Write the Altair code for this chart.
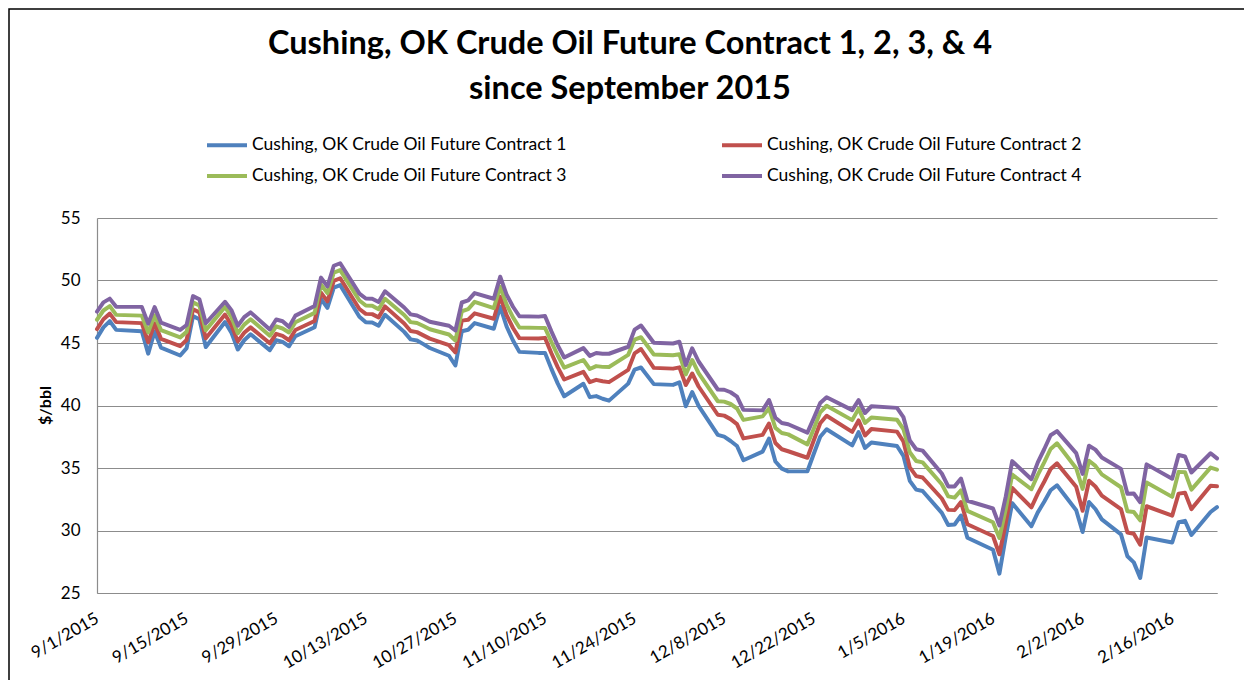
import altair as alt
import pandas as pd

# ---------------- data ----------------
dates = [
    # Sep 2015
    "2015-09-01", "2015-09-02", "2015-09-03", "2015-09-04", "2015-09-08", "2015-09-09", "2015-09-10",
    "2015-09-11", "2015-09-14", "2015-09-15", "2015-09-16", "2015-09-17", "2015-09-18", "2015-09-21",
    "2015-09-22", "2015-09-23", "2015-09-24", "2015-09-25", "2015-09-28", "2015-09-29", "2015-09-30",
    # Oct 2015
    "2015-10-01", "2015-10-02", "2015-10-05", "2015-10-06", "2015-10-07", "2015-10-08", "2015-10-09",
    "2015-10-12", "2015-10-13", "2015-10-14", "2015-10-15", "2015-10-16", "2015-10-19", "2015-10-20",
    "2015-10-21", "2015-10-22", "2015-10-23", "2015-10-26", "2015-10-27", "2015-10-28", "2015-10-29",
    "2015-10-30",
    # Nov 2015
    "2015-11-02", "2015-11-03", "2015-11-04", "2015-11-05", "2015-11-06", "2015-11-09", "2015-11-10",
    "2015-11-11", "2015-11-12", "2015-11-13", "2015-11-16", "2015-11-17", "2015-11-18", "2015-11-19",
    "2015-11-20", "2015-11-23", "2015-11-24", "2015-11-25", "2015-11-27", "2015-11-30",
    # Dec 2015
    "2015-12-01", "2015-12-02", "2015-12-03", "2015-12-04", "2015-12-07", "2015-12-08", "2015-12-09",
    "2015-12-10", "2015-12-11", "2015-12-14", "2015-12-15", "2015-12-16", "2015-12-17", "2015-12-18",
    "2015-12-21", "2015-12-22", "2015-12-23", "2015-12-24", "2015-12-28", "2015-12-29", "2015-12-30",
    "2015-12-31",
    # Jan 2016
    "2016-01-04", "2016-01-05", "2016-01-06", "2016-01-07", "2016-01-08", "2016-01-11", "2016-01-12",
    "2016-01-13", "2016-01-14", "2016-01-15", "2016-01-19", "2016-01-20", "2016-01-21", "2016-01-22",
    "2016-01-25", "2016-01-26", "2016-01-27", "2016-01-28", "2016-01-29",
    # Feb 2016
    "2016-02-01", "2016-02-02", "2016-02-03", "2016-02-04", "2016-02-05", "2016-02-08", "2016-02-09",
    "2016-02-10", "2016-02-11", "2016-02-12", "2016-02-16", "2016-02-17", "2016-02-18", "2016-02-19",
    "2016-02-22", "2016-02-23",
]

contract1 = [
    45.41, 46.25, 46.75, 46.05, 45.94, 44.15, 45.92, 44.63, 44.00, 44.59, 47.15, 46.90, 44.68, 46.68,
    45.83, 44.48, 45.22, 45.70, 44.43, 45.23, 45.09,
    44.74, 45.54, 46.26, 48.53, 47.81, 49.43, 49.63, 47.10, 46.66, 46.64, 46.38, 47.26, 45.89, 45.29,
    45.20, 44.91, 44.60, 43.98, 43.20, 45.94, 46.06, 46.59,
    46.14, 47.90, 46.32, 45.20, 44.29, 44.21, 44.21, 42.93, 41.75, 40.74, 41.74, 40.67, 40.75, 40.54,
    40.39, 41.75, 42.87, 43.04, 41.71, 41.65,
    41.85, 39.94, 41.08, 39.97, 37.65, 37.51, 37.16, 36.76, 35.62, 36.31, 37.35, 35.52, 34.95, 34.73,
    34.74, 36.14, 37.50, 38.10, 36.81, 37.87, 36.60, 37.04,
    36.76, 35.97, 33.97, 33.27, 33.16, 31.41, 30.44, 30.48, 31.20, 29.42, 28.46, 26.55, 29.53, 32.19,
    30.34, 31.45, 32.30, 33.22, 33.62,
    31.62, 29.88, 32.28, 31.72, 30.89, 29.69, 27.94, 27.45, 26.21, 29.44, 29.04, 30.66, 30.77, 29.64,
    31.48, 31.87,
]

contract2 = [
    46.11, 46.90, 47.35, 46.67, 46.59, 45.05, 46.57, 45.33, 44.75, 45.24, 47.70, 47.45, 45.38, 47.28,
    46.43, 45.13, 45.82, 46.25, 44.98, 45.73, 45.57,
    45.22, 46.04, 46.76, 49.03, 48.33, 49.97, 50.18, 47.72, 47.33, 47.31, 47.05, 47.93, 46.56, 45.96,
    45.87, 45.61, 45.35, 44.83, 44.25, 46.79, 46.86, 47.37,
    46.94, 48.70, 47.22, 46.20, 45.39, 45.36, 45.41, 44.18, 43.05, 42.08, 42.69, 41.87, 42.05, 41.94,
    41.87, 42.85, 44.17, 44.52, 43.01, 42.95,
    43.05, 41.64, 42.56, 41.52, 39.26, 39.19, 38.91, 38.51, 37.37, 37.65, 38.56, 37.00, 36.50, 36.34,
    35.82, 37.22, 38.58, 39.18, 37.89, 38.81, 37.60, 38.12,
    37.91, 37.12, 35.05, 34.35, 34.24, 32.56, 31.65, 31.63, 32.28, 30.50, 29.56, 28.10, 30.63, 33.40,
    31.85, 32.95, 33.90, 34.92, 35.37,
    33.50, 31.58, 33.98, 33.52, 32.79, 31.71, 29.84, 29.74, 28.86, 31.94, 31.19, 32.95, 33.02, 31.71,
    33.58, 33.54,
]

contract3 = [
    46.86, 47.60, 47.95, 47.25, 47.19, 45.85, 47.22, 46.03, 45.45, 45.89, 48.25, 48.00, 46.03, 47.88,
    47.08, 45.78, 46.47, 46.90, 45.58, 46.33, 46.16,
    45.84, 46.66, 47.41, 49.68, 48.99, 50.63, 50.83, 48.40, 48.00, 47.98, 47.70, 48.54, 47.24, 46.67,
    46.60, 46.36, 46.10, 45.68, 45.20, 47.54, 47.71, 48.29,
    47.79, 49.50, 48.07, 47.05, 46.24, 46.21, 46.21, 45.08, 44.00, 43.03, 43.64, 42.92, 43.15, 43.09,
    43.08, 44.05, 45.27, 45.46, 44.08, 44.02,
    44.10, 42.49, 43.64, 42.59, 40.34, 40.31, 40.12, 39.76, 38.85, 39.13, 39.77, 38.21, 37.80, 37.69,
    36.89, 38.14, 39.45, 39.98, 38.83, 39.75, 38.60, 39.04,
    38.86, 38.12, 36.26, 35.56, 35.45, 33.70, 32.73, 32.63, 33.22, 31.57, 30.66, 29.40, 31.73, 34.48,
    33.30, 34.45, 35.45, 36.52, 36.98,
    34.98, 33.33, 35.58, 35.17, 34.49, 33.46, 31.54, 31.48, 30.81, 33.84, 32.69, 34.69, 34.67, 33.27,
    35.03, 34.87,
]

contract4 = [
    47.51, 48.25, 48.55, 47.90, 47.89, 46.55, 47.87, 46.63, 46.05, 46.44, 48.75, 48.50, 46.58, 48.30,
    47.63, 46.38, 47.07, 47.45, 46.08, 46.88, 46.74,
    46.29, 47.19, 47.96, 50.23, 49.53, 51.18, 51.38, 48.95, 48.56, 48.54, 48.28, 49.14, 47.84, 47.29,
    47.20, 46.96, 46.70, 46.38, 46.00, 48.24, 48.41, 48.99,
    48.54, 50.30, 48.87, 47.90, 47.14, 47.11, 47.16, 45.93, 44.80, 43.84, 44.59, 43.97, 44.20, 44.14,
    44.14, 44.70, 46.07, 46.40, 45.02, 44.96,
    45.10, 43.24, 44.58, 43.52, 41.28, 41.26, 41.06, 40.71, 39.65, 39.61, 40.44, 39.02, 38.60, 38.50,
    37.83, 38.99, 40.20, 40.66, 39.63, 40.43, 39.40, 39.94,
    39.81, 39.07, 37.20, 36.50, 36.39, 34.56, 33.53, 33.53, 34.16, 32.38, 31.76, 30.40, 32.73, 35.55,
    34.10, 35.45, 36.50, 37.62, 37.95,
    36.19, 34.53, 36.78, 36.47, 35.84, 34.93, 32.94, 32.96, 32.26, 35.29, 34.14, 36.04, 35.92, 34.64,
    36.18, 35.77,
]

series_names = [
    "Cushing, OK Crude Oil Future Contract 1",
    "Cushing, OK Crude Oil Future Contract 2",
    "Cushing, OK Crude Oil Future Contract 3",
    "Cushing, OK Crude Oil Future Contract 4",
]
series_colors = ["#4F81BD", "#C0504D", "#9BBB59", "#8064A2"]

y_ticks = [25, 30, 35, 40, 45, 50, 55]
x_tick_dates = [
    "2015-09-01", "2015-09-15", "2015-09-29", "2015-10-13", "2015-10-27", "2015-11-10", "2015-11-24",
    "2015-12-08", "2015-12-22", "2016-01-05", "2016-01-19", "2016-02-02", "2016-02-16",
]

title_lines = ["Cushing, OK Crude Oil Future Contract 1, 2, 3, & 4", "since September 2015"]
y_title = "$/bbl"

# ---------------- build table ----------------
rows = []
for name, vals in zip(series_names, [contract1, contract2, contract3, contract4]):
    for d, v in zip(dates, vals):
        rows.append({"date": d, "series": name, "value": v})
df = pd.DataFrame(rows)


def dt(s):
    y, m, d = (int(p) for p in s.split("-"))
    return alt.DateTime(year=y, month=m, date=d, utc=True)


FONT = "Lato"
GRID = "#8c8c8c"

lines = alt.Chart(df).mark_line(strokeWidth=4, strokeJoin="round", strokeCap="round").encode(
    x=alt.X(
        "date:T",
        scale=alt.Scale(type="utc", domain=[dt(dates[0]), dt(dates[-1])]),
        axis=alt.Axis(
            values=[dt(s) for s in x_tick_dates],
            labelExpr="utcFormat(datum.value, '%-m/%-d/%Y')",
            labelAngle=-30,
            labelAlign="right",
            labelBaseline="middle",
            labelPadding=24,
            ticks=False,
            tickSize=0,
            grid=False,
            domainColor=GRID,
            domainWidth=1.2,
            title=None,
            labelFont=FONT,
            labelFontSize=17,
            labelColor="#000000",
            labelOverlap=False,
            labelBound=False,
            labelFlush=False,
        ),
    ),
    y=alt.Y(
        "value:Q",
        scale=alt.Scale(domain=[25, 55], nice=False, zero=False),
        axis=alt.Axis(
            values=y_ticks,
            title=y_title,
            titleFont=FONT,
            titleFontSize=16,
            titleFontWeight="bold",
            titleColor="#000000",
            titleAngle=-90,
            titleX=-52,
            titleY=187,
            titleAlign="center",
            titleBaseline="middle",
            labelFont=FONT,
            labelFontSize=17,
            labelColor="#000000",
            labelPadding=17,
            ticks=False,
            tickSize=0,
            grid=True,
            gridColor=GRID,
            gridWidth=1.2,
            domainColor=GRID,
            domainWidth=1.2,
        ),
    ),
    color=alt.Color(
        "series:N",
        scale=alt.Scale(domain=series_names, range=series_colors),
        legend=alt.Legend(
            title=None,
            orient="none",
            direction="horizontal",
            legendX=108,
            legendY=-95,
            columns=2,
            columnPadding=147,
            rowPadding=-5,
            symbolType="stroke",
            symbolSize=1600,
            symbolStrokeWidth=4,
            labelFont=FONT,
            labelFontSize=17.5,
            labelColor="#000000",
            labelOffset=3,
            labelLimit=600,
        ),
    ),
)

frame = alt.Chart(pd.DataFrame({"k": [0]})).mark_rect(
    fillOpacity=0, stroke="#000000", strokeWidth=1.5
).encode(
    x=alt.value(-88), x2=alt.value(1148), y=alt.value(-209), y2=alt.value(480)
)

title = alt.Chart(pd.DataFrame({"t": ["\n".join(title_lines)]})).mark_text(
    font=FONT,
    fontSize=32.5,
    fontWeight="bold",
    color="#000000",
    align="center",
    baseline="alphabetic",
    lineBreak="\n",
    lineHeight=45,
).encode(
    text="t:N", x=alt.value(533), y=alt.value(-164)
)

chart = alt.layer(frame, lines, title).properties(
    width=1120,
    height=375,
    autosize=alt.AutoSizeParams(type="none"),
    padding={"left": 89, "top": 210, "right": 27, "bottom": 87},
    background="white",
).configure_view(stroke=None)

chart.save("out.html", embed_options={"renderer": "svg", "actions": False})
